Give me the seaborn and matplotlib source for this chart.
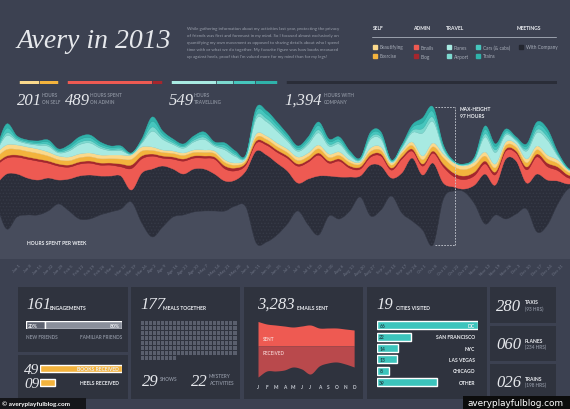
import numpy as np
import pandas as pd
import seaborn as sns
import matplotlib.pyplot as plt

# ------------------------------- colours -------------------------------- #
BG = '#3c4151'
PANEL = '#2f333e'
UNDER = '#474c5c'
COMPANY = '#2b2e3a'
EMAILS = '#ee5a52'
BLOG = '#a6262d'
EXERCISE = '#f3b33d'
BEAUTY = '#fbd98c'
PLANES = '#a8eae2'
AIRPORT = '#7cd9cf'
CARS = '#46c6bd'
TRAINS = '#2fb2aa'
TEAL = '#3cc4bc'
SQUARE = '#5a5f6d'

# ------------------- weekly hours for the stream graph ------------------- #
# index -2..54, the labelled weeks are 0..52, the outer points pad the edges
weeks = np.arange(-2, 55)
offset = [38.5, 21, 29.4, 30.8, 30.8, 33.6, 38.5, 33.6, 28, 28, 30.8, 32.9, 35, 39.9, 25.2,
          15.4, 22.4, 29.4, 30.8, 32.9, 33.6, 33.6, 33.6, 37.1, 36.4, 11.2, 11.9, 16.8, 24.5,
          33.6, 23.8, 16.8, 30.1, 28, 33.6, 43.4, 30.1, 34.3, 44.1, 32.2, 26.6, 20.3, 9.8, 42,
          47.6, 46.9, 38.5, 24.5, 30.8, 28, 31.5, 35, 18.9, 23.8, 38.5, 49, 49.7]
company = [14, 38.5, 30.1, 25.9, 24.5, 23.1, 16.8, 22.4, 30.1, 30.8, 27.3, 25.2, 23.1, 8.4, 35,
           47.6, 42.7, 33.6, 28.7, 30.1, 29.4, 25.9, 21, 18.2, 25.2, 64.4, 60.9, 50.4, 37.1, 19.6,
           32.2, 41.3, 28, 29.4, 23.8, 14.7, 35.7, 30.8, 12.6, 28, 44.1, 38.5, 57.4, 11.2, 2.8,
           2.1, 13.3, 35, 21, 42, 37.1, 18.2, 40.6, 31.5, 16.1, 3.5, 4.2]
emails = [13.2, 11.1, 11.8, 13.2, 13.2, 10.4, 9.7, 8.3, 8.3, 8.3, 7.6, 7.6, 6.4, 15, 9.9, 9, 5.5,
          6.9, 9, 7.6, 7.6, 10.4, 8.5, 6.4, 4.1, 5.5, 6.9, 7.6, 9, 11.8, 11.8, 14.6, 9, 11.1, 6.2,
          4.8, 5.5, 6.9, 5.5, 9.7, 4.8, 6.2, 6.9, 11.3, 7.3, 6.6, 6.6, 7.1, 7.1, 5.5, 5.5, 9.2, 12,
          9.4, 7.3, 4.3, 2.7]
blog = [1.5, 1.5, 1.5, 1.5, 1.5, 1.5, 1.5, 1.5, 1.5, 1.5, 1.5, 1.5, 2, 2.5, 2, 1.5, 1.5, 1.5,
        1.5, 1.5, 1.5, 1.5, 2, 2, 1.5, 1.5, 1.5, 1.5, 1.5, 1.5, 1.5, 1.5, 1.5, 1.5, 1.5, 1.5,
        1.5, 1.5, 1.5, 1.5, 1.5, 1.5, 1.5, 2, 2.5, 2.5, 2.5, 2, 2, 1.5, 1.5, 2, 2, 2.5, 2.5, 2, 1.5]
exercise = [4, 4.5, 4, 4, 4, 3.5, 3, 3, 3, 3, 3, 3, 3.5, 4, 3.5, 2.5, 2.5, 2.5, 2.5, 2.5, 2.5,
            2.5, 2.5, 2, 1.5, 2.5, 2.5, 2.5, 2.5, 2.5, 2.5, 3, 2.5, 2.5, 2.5, 2, 2.5, 2.5, 2, 2.5,
            2.5, 3, 3, 4.5, 4.5, 4.5, 4.5, 3.5, 3, 2.5, 2.5, 3, 3, 3, 2.5, 2, 1]
beautifying = [3, 3.2, 3, 3, 3, 2.8, 2.6, 2.6, 2.6, 2.6, 2.6, 2.6, 2.8, 3, 2.8, 2.4, 1.7, 1.7,
               1.7, 1.7, 1.7, 1.7, 1.7, 1.5, 1.3, 2.4, 2.4, 2.4, 2.4, 2.4, 2.4, 2.6, 2.4, 2.4,
               1.7, 1.5, 2.4, 2.4, 1.5, 1.7, 2.4, 2.6, 2.6, 2.5, 2.5, 2.5, 2.5, 2.8, 2.6, 2.4,
               2.4, 2.6, 2.6, 2.6, 2.4, 1.5, 1.1]
planes = [1.2, 6.5, 3, 2.3, 2.6, 4, 2.2, 4.2, 6.5, 7, 4.8, 3, 3, 0.6, 2.6, 11, 7.5, 4.6, 3.3,
          5.6, 7.4, 3.3, 7, 4.6, 1.2, 10.5, 10, 8.3, 5.5, 4, 6, 8.5, 5.5, 5.5, 3, 1.2, 6, 5.5,
          0.9, 2, 6.5, 16, 15, 3, 0.6, 0.6, 1.5, 10.5, 8, 4.8, 2.2, 5.5, 9.4, 10.5, 2.6, 0.6, 0.6]
airport = [0.4, 2, 1, 0.8, 0.9, 1.3, 0.8, 1.2, 1.6, 1.7, 1.3, 1, 1, 0.2, 0.9, 3, 1.8, 1.2, 1,
           1.3, 1.6, 1, 1.5, 1.2, 0.5, 2.3, 2.2, 2, 1.5, 1.1, 1.6, 2.2, 1.5, 1.5, 1, 0.5, 1.6,
           1.5, 0.4, 0.7, 1.6, 3.2, 3, 1, 0.2, 0.2, 0.6, 2.3, 1.8, 1.3, 0.8, 1.5, 2.2, 2.3, 0.9,
           0.2, 0.2]
cars = [0.6, 3.2, 1.3, 1, 1.1, 1.7, 1, 1.6, 2, 2.1, 1.6, 1.3, 1.3, 0.3, 1.1, 4, 2.2, 1.4, 1,
        1.6, 2, 1, 1.9, 1.4, 0.6, 3, 3, 2.4, 1.9, 1.4, 2, 3, 1.9, 1.9, 1.3, 0.6, 2, 1.9, 0.4,
        0.8, 2, 4, 4, 1.3, 0.3, 0.3, 0.8, 3, 2.4, 1.6, 1, 1.9, 2.8, 3, 1.1, 0.3, 0.3]
trains = [0.6, 3, 1, 0.8, 1, 1.4, 0.9, 1.4, 1.8, 1.8, 1.4, 1, 1, 0.3, 1, 3, 1.8, 1.2, 1, 1.3,
          1.6, 1, 1.5, 1.2, 0.5, 2.4, 2.3, 2, 1.6, 1.2, 1.6, 2.4, 1.6, 1.6, 1, 0.5, 1.6, 1.6,
          0.4, 0.7, 1.8, 3.4, 3.2, 1, 0.3, 0.3, 0.6, 2.4, 1.8, 1.4, 0.9, 1.6, 2.4, 2.4, 1, 0.3, 0.3]
week_labels = [f'{d:%b} {d.day}' for d in pd.date_range('2013-01-01', periods=53, freq='7D')]

# ------------------------------ totals ----------------------------------- #
totals = [201, 489, 549, 1394]
total_labels = ['HOURS\nON SELF', 'HOURS SPENT\nON ADMIN', 'HOURS\nTRAVELLING', 'HOURS WITH\nCOMPANY']
segments = [[103, 98], [438, 51], [234, 86, 115, 114], [1394]]
segment_colors = [[BEAUTY, EXERCISE], [EMAILS, BLOG], [PLANES, AIRPORT, CARS, TRAINS], ['#2a2d38']]

# ---------------------------- bottom panels ------------------------------ #
engagements = 161
new_friends, familiar_friends = 20, 80
received_names = ['BOOKS RECEIVED', 'HEELS RECEIVED']
received_vals = [49, 9]
meals = 177
meal_cols, meal_rows = 24, 8
shows, mystery = 29, 22
emails_sent_total = 3283
months = list('JFMAMJJASOND')
sent = [343, 308, 294, 280, 266, 280, 294, 252, 252, 252, 238, 224]
received = [434, 350, 350, 336, 294, 322, 392, 280, 238, 224, 252, 294]
cities = ['DC', 'SAN FRANCISCO', 'NYC', 'LAS VEGAS', 'CHICAGO', 'OTHER']
city_visits = [66, 22, 14, 13, 8, 39]
cities_visited = 19
transport = [('280', 'TAXIS', '(93 HRS)'), ('060', 'PLANES', '(234 HRS)'), ('026', 'TRAINS', '(198 HRS)')]

paragraph = [
    "While gathering information about my activities last year, protecting the privacy",
    "of friends was first and foremost in my mind. So I focused almost exclusively on",
    "quantifying my own movement as opposed to sharing details about who I spend",
    "time with or what we do together. My favorite figure was how books measured",
    "up against heels, proof that I'm valued more for my mind than for my legs!",
]

sns.set_theme(style='dark', rc={'axes.facecolor': BG, 'figure.facecolor': BG})
plt.rcParams['font.family'] = ['Lato', 'DejaVu Sans']
plt.rcParams['hatch.linewidth'] = 0.6

W, H = 570, 410
fig = plt.figure(figsize=(W / 100, H / 100), dpi=100)
fig.patch.set_facecolor(BG)

SCRIPT = dict(family='Liberation Serif', style='italic', color='#e6e8ec')
CAPS = dict(weight='bold', color='#eceef2', fontsize=3.6)
GREY = dict(weight='bold', color='#878d9a', fontsize=3.4)


def fx(x):
    return x / W


def fy(y):
    return 1 - y / H


def text(x, y, s, **kw):
    kw.setdefault('va', 'center')
    fig.text(fx(x), fy(y), s, **kw)


def box(x0, y0, x1, y1, color=PANEL):
    a = fig.add_axes([fx(x0), fy(y1), (x1 - x0) / W, (y1 - y0) / H])
    a.set_facecolor(color)
    a.set_xticks([])
    a.set_yticks([])
    for s in a.spines.values():
        s.set_visible(False)
    return a


def smooth(x, y, n=12):
    # cubic hermite curve through the points, only for drawing
    x = np.asarray(x, float)
    y = np.asarray(y, float)
    m = np.gradient(y, x)
    xs = np.linspace(x[0], x[-1], (len(x) - 1) * n + 1)
    i = np.clip(np.searchsorted(x, xs, side='right') - 1, 0, len(x) - 2)
    h = x[i + 1] - x[i]
    t = (xs - x[i]) / h
    ys = ((2 * t**3 - 3 * t**2 + 1) * y[i] + (t**3 - 2 * t**2 + t) * h * m[i]
          + (-2 * t**3 + 3 * t**2) * y[i + 1] + (t**3 - t**2) * h * m[i + 1])
    return xs, ys


# ------------------------------- header ---------------------------------- #
text(17, 42, 'Avery in 2013', fontsize=20, **SCRIPT)
for i, line in enumerate(paragraph):
    text(187, 29 + i * 7, line, fontsize=3.2, color='#9aa0ac')

for x, h in zip([373, 413, 446, 517], ['SELF', 'ADMIN', 'TRAVEL', 'MEETINGS']):
    text(x, 29, h, **CAPS)
fig.add_artist(plt.Line2D([fx(372), fx(556)], [fy(38), fy(38)], color='#9aa0ac', lw=0.7))
legend_items = [(373, 48, 'Beautifying', BEAUTY), (373, 57, 'Exercise', EXERCISE),
                (414, 48, 'Emails', EMAILS), (414, 57, 'Blog', BLOG),
                (447, 48, 'Planes', PLANES), (447, 57, 'Airport', AIRPORT),
                (476, 48, 'Cars (& cabs)', CARS), (476, 57, 'Trains', TRAINS),
                (519, 48, 'With Company', '#23262f')]
for x, y, lab, c in legend_items:
    fig.add_artist(plt.Rectangle((fx(x), fy(y + 2)), 4 / W, 4 / H, color=c))
    text(x + 7, y, lab, fontsize=3.4, color='#a7adb8')

# total bars, proportional to the hours
bx = fig.add_axes([fx(19), fy(84.5), (557 - 19) / W, 3 / H])
bx.axis('off')
gap = 46
left = 0
starts = []
for segs, cols in zip(segments, segment_colors):
    starts.append(left)
    for v, c in zip(segs, cols):
        bx.barh(0, v, left=left, height=1, color=c, edgecolor=BG, linewidth=0.4)
        left += v
    left += gap
bx.set_xlim(0, left - gap)
bx.set_ylim(-0.5, 0.5)
scale = (557 - 19) / (left - gap)
for s, tot, lab in zip(starts, totals, total_labels):
    x = 19 + s * scale
    num = f'{tot:,}'
    text(x - 2, 101, num, fontsize=12, **SCRIPT)
    text(x + len(num) * 7.3 + 1, 99, lab, color='#878d9a', weight='bold', fontsize=3.3,
         linespacing=1.5)

# ---------------------------- stream graph ------------------------------- #
layers = [offset, company, emails, blog, exercise, beautifying, planes, airport, cars, trains]
colors = [UNDER, COMPANY, EMAILS, BLOG, EXERCISE, BEAUTY, PLANES, AIRPORT, CARS, TRAINS]
xs = None
smoothed = []
for lay in layers:
    xs, ys = smooth(weeks, lay)
    smoothed.append(np.clip(ys, 0, None))

ax = fig.add_axes([0, fy(260), 1, 160 / H])
ax.set_facecolor('none')
polys = ax.stackplot(xs, *smoothed, colors=colors, linewidth=0.3)
for p, c in zip(polys, colors):
    p.set_edgecolor(c)
polys[1].set_hatch('.....')
polys[1].set_edgecolor('#363a47')

lab_w = np.arange(53)
off = np.asarray(offset)[lab_w + 2]
ax.vlines(lab_w, 0, off, color='#5b6071', lw=0.5, zorder=0.5)

total = np.sum(np.asarray(layers[1:]), axis=0)
pk = int(np.argmax(total[2:55])) + 2
pw = weeks[pk]
top = offset[pk] + total[pk]
bot = offset[pk]
dash = dict(color='#c9ccd4', lw=0.6, ls=(0, (2, 1.5)))
ax.plot([pw + 0.2, pw + 2.1], [top, top], **dash)
ax.plot([pw + 2.1, pw + 2.1], [bot, top], **dash)
ax.plot([pw + 0.2, pw + 2.1], [bot, bot], **dash)
ax.text(pw + 2.6, top + 0.5, f'MAX-HEIGHT\n{total[pk]:.0f} HOURS', va='top', ha='left',
        linespacing=1.4, **CAPS)
ax.text(27 / W, 0.1, 'HOURS SPENT PER WEEK', transform=ax.transAxes, va='center', **CAPS)

ax.set_xlim(-17 / 10.4, 553 / 10.4)
ax.set_ylim(0, 112)
ax.set_xticks(lab_w)
ax.set_xticklabels(week_labels, rotation=45, ha='center', fontsize=3.2, color='#6f7586')
ax.set_yticks([])
ax.tick_params(axis='x', length=0, pad=3)
for s in ax.spines.values():
    s.set_visible(False)

# ---------------------------- bottom panels ------------------------------ #
# engagements
box(18, 288, 128, 353)
text(26, 305, str(engagements), fontsize=12, **SCRIPT)
text(50, 309, 'ENGAGEMENTS', **CAPS)
ex = fig.add_axes([fx(26), fy(330), 96 / W, 8 / H])
ex.axis('off')
ex.barh(0, new_friends, color='#5d6270', height=1)
ex.barh(0, familiar_friends, left=new_friends, color='#8a8f9b', height=1)
ex.set_xlim(0, new_friends + familiar_friends)
ex.set_ylim(-0.5, 0.5)
text(28, 326, f'{new_friends}%', **CAPS)
text(120, 326, f'{familiar_friends}%', ha='right', **CAPS)
text(26, 338, 'NEW FRIENDS', **GREY)
text(122, 338, 'FAMILIAR FRIENDS', ha='right', **GREY)

# books / heels
box(18, 356, 128, 400)
rx = fig.add_axes([fx(40), fy(390.5), 82 / W, 28 / H])
sns.barplot(x=received_vals, y=received_names, orient='h', color=EXERCISE, saturation=1,
            width=0.5, ax=rx)
rx.set_xlim(0, max(received_vals))
rx.axis('off')
for y, v, n in zip([369.5, 383.5], received_vals, received_names):
    text(24, y + 1, f'{v:02d}', fontsize=11, **SCRIPT)
    text(119, y, n, ha='right', **CAPS)

# meals
box(131, 288, 240, 400)
text(140, 305, str(meals), fontsize=12, **SCRIPT)
text(163, 309, 'MEALS TOGETHER', **CAPS)
mx = fig.add_axes([fx(139.5), fy(361), 97 / W, 40 / H])
grid = (np.arange(meal_rows * meal_cols) < meals).reshape(meal_rows, meal_cols)
sns.heatmap(np.ones(grid.shape), mask=~grid, cmap=[SQUARE], cbar=False, linewidths=0.5,
            linecolor=PANEL, xticklabels=False, yticklabels=False, ax=mx)
mx.set_facecolor(PANEL)
text(142, 382, str(shows), fontsize=12, **SCRIPT)
text(160, 380, 'SHOWS', **GREY)
text(191, 382, str(mystery), fontsize=12, **SCRIPT)
text(209, 380, 'MYSTERY\nACTIVITIES', linespacing=1.5, **GREY)

# emails
box(244, 288, 363, 400)
text(257, 305, f'{emails_sent_total:,}', fontsize=12, **SCRIPT)
text(297, 309, 'EMAILS SENT', **CAPS)
exm = fig.add_axes([fx(258), fy(380), 97 / W, 60 / H])
mi = np.arange(len(months))
sx, sy = smooth(mi, sent)
_, ry = smooth(mi, received)
exm.fill_between(sx, 0, sy, color=EMAILS, lw=0)
exm.fill_between(sx, -ry, 0, color='#b9494c', lw=0)
exm.set_xlim(0, 11.1)
exm.set_ylim(-462, 378)
exm.set_yticks([])
exm.set_xticks(mi)
exm.set_xticklabels(months, fontsize=3.4, color='#c8ccd4', weight='bold')
exm.tick_params(axis='x', length=0, pad=3.5)
for s in exm.spines.values():
    s.set_visible(False)
exm.set_facecolor('none')
text(263, 340, 'SENT', color='#f6d0cc', weight='bold', fontsize=3.3)
text(263, 354, 'RECEIVED', color='#f0c4c4', weight='bold', fontsize=3.3)

# cities
box(367, 288, 487, 400)
text(376, 305, str(cities_visited), fontsize=12, **SCRIPT)
text(396, 309, 'CITIES VISITED', **CAPS)
cx = fig.add_axes([fx(377), fy(389), 101 / W, 68.5 / H])
sns.barplot(x=city_visits, y=cities, orient='h', color=TEAL, saturation=1, width=0.7, ax=cx)
cx.set_xlim(0, max(city_visits))
cx.axis('off')
for i, (c, v) in enumerate(zip(cities, city_visits)):
    cx.text(1.5, i, str(v), va='center', ha='left', color='#24484e', weight='bold', fontsize=3.6)
    cx.text(max(city_visits) - 2, i, c, va='center', ha='right', color='#eceef2',
            weight='bold', fontsize=3.6)

# transport
for (num, lab, hrs), (y0, y1) in zip(transport, [(288, 324), (327, 362), (365, 400)]):
    box(490, y0, 556, y1)
    yc = (y0 + y1) / 2
    text(496, yc + 1, num, fontsize=12, **SCRIPT)
    text(525, yc - 3, lab, **CAPS)
    text(525, yc + 3, hrs, **GREY)

# ------------------------------ watermarks ------------------------------- #
box(0, 399, 86, 410, '#15161a')
text(2, 404.5, '\u00a9 averyplayfulblog.com', color='white', weight='bold', fontsize=4.6)
box(463, 397, 570, 410, '#0c0c0c')
text(516, 403.5, 'averyplayfulblog.com', color='white', fontsize=6.4, ha='center',
     family='DejaVu Sans')

fig.savefig('out.png', dpi=100, facecolor=BG)
